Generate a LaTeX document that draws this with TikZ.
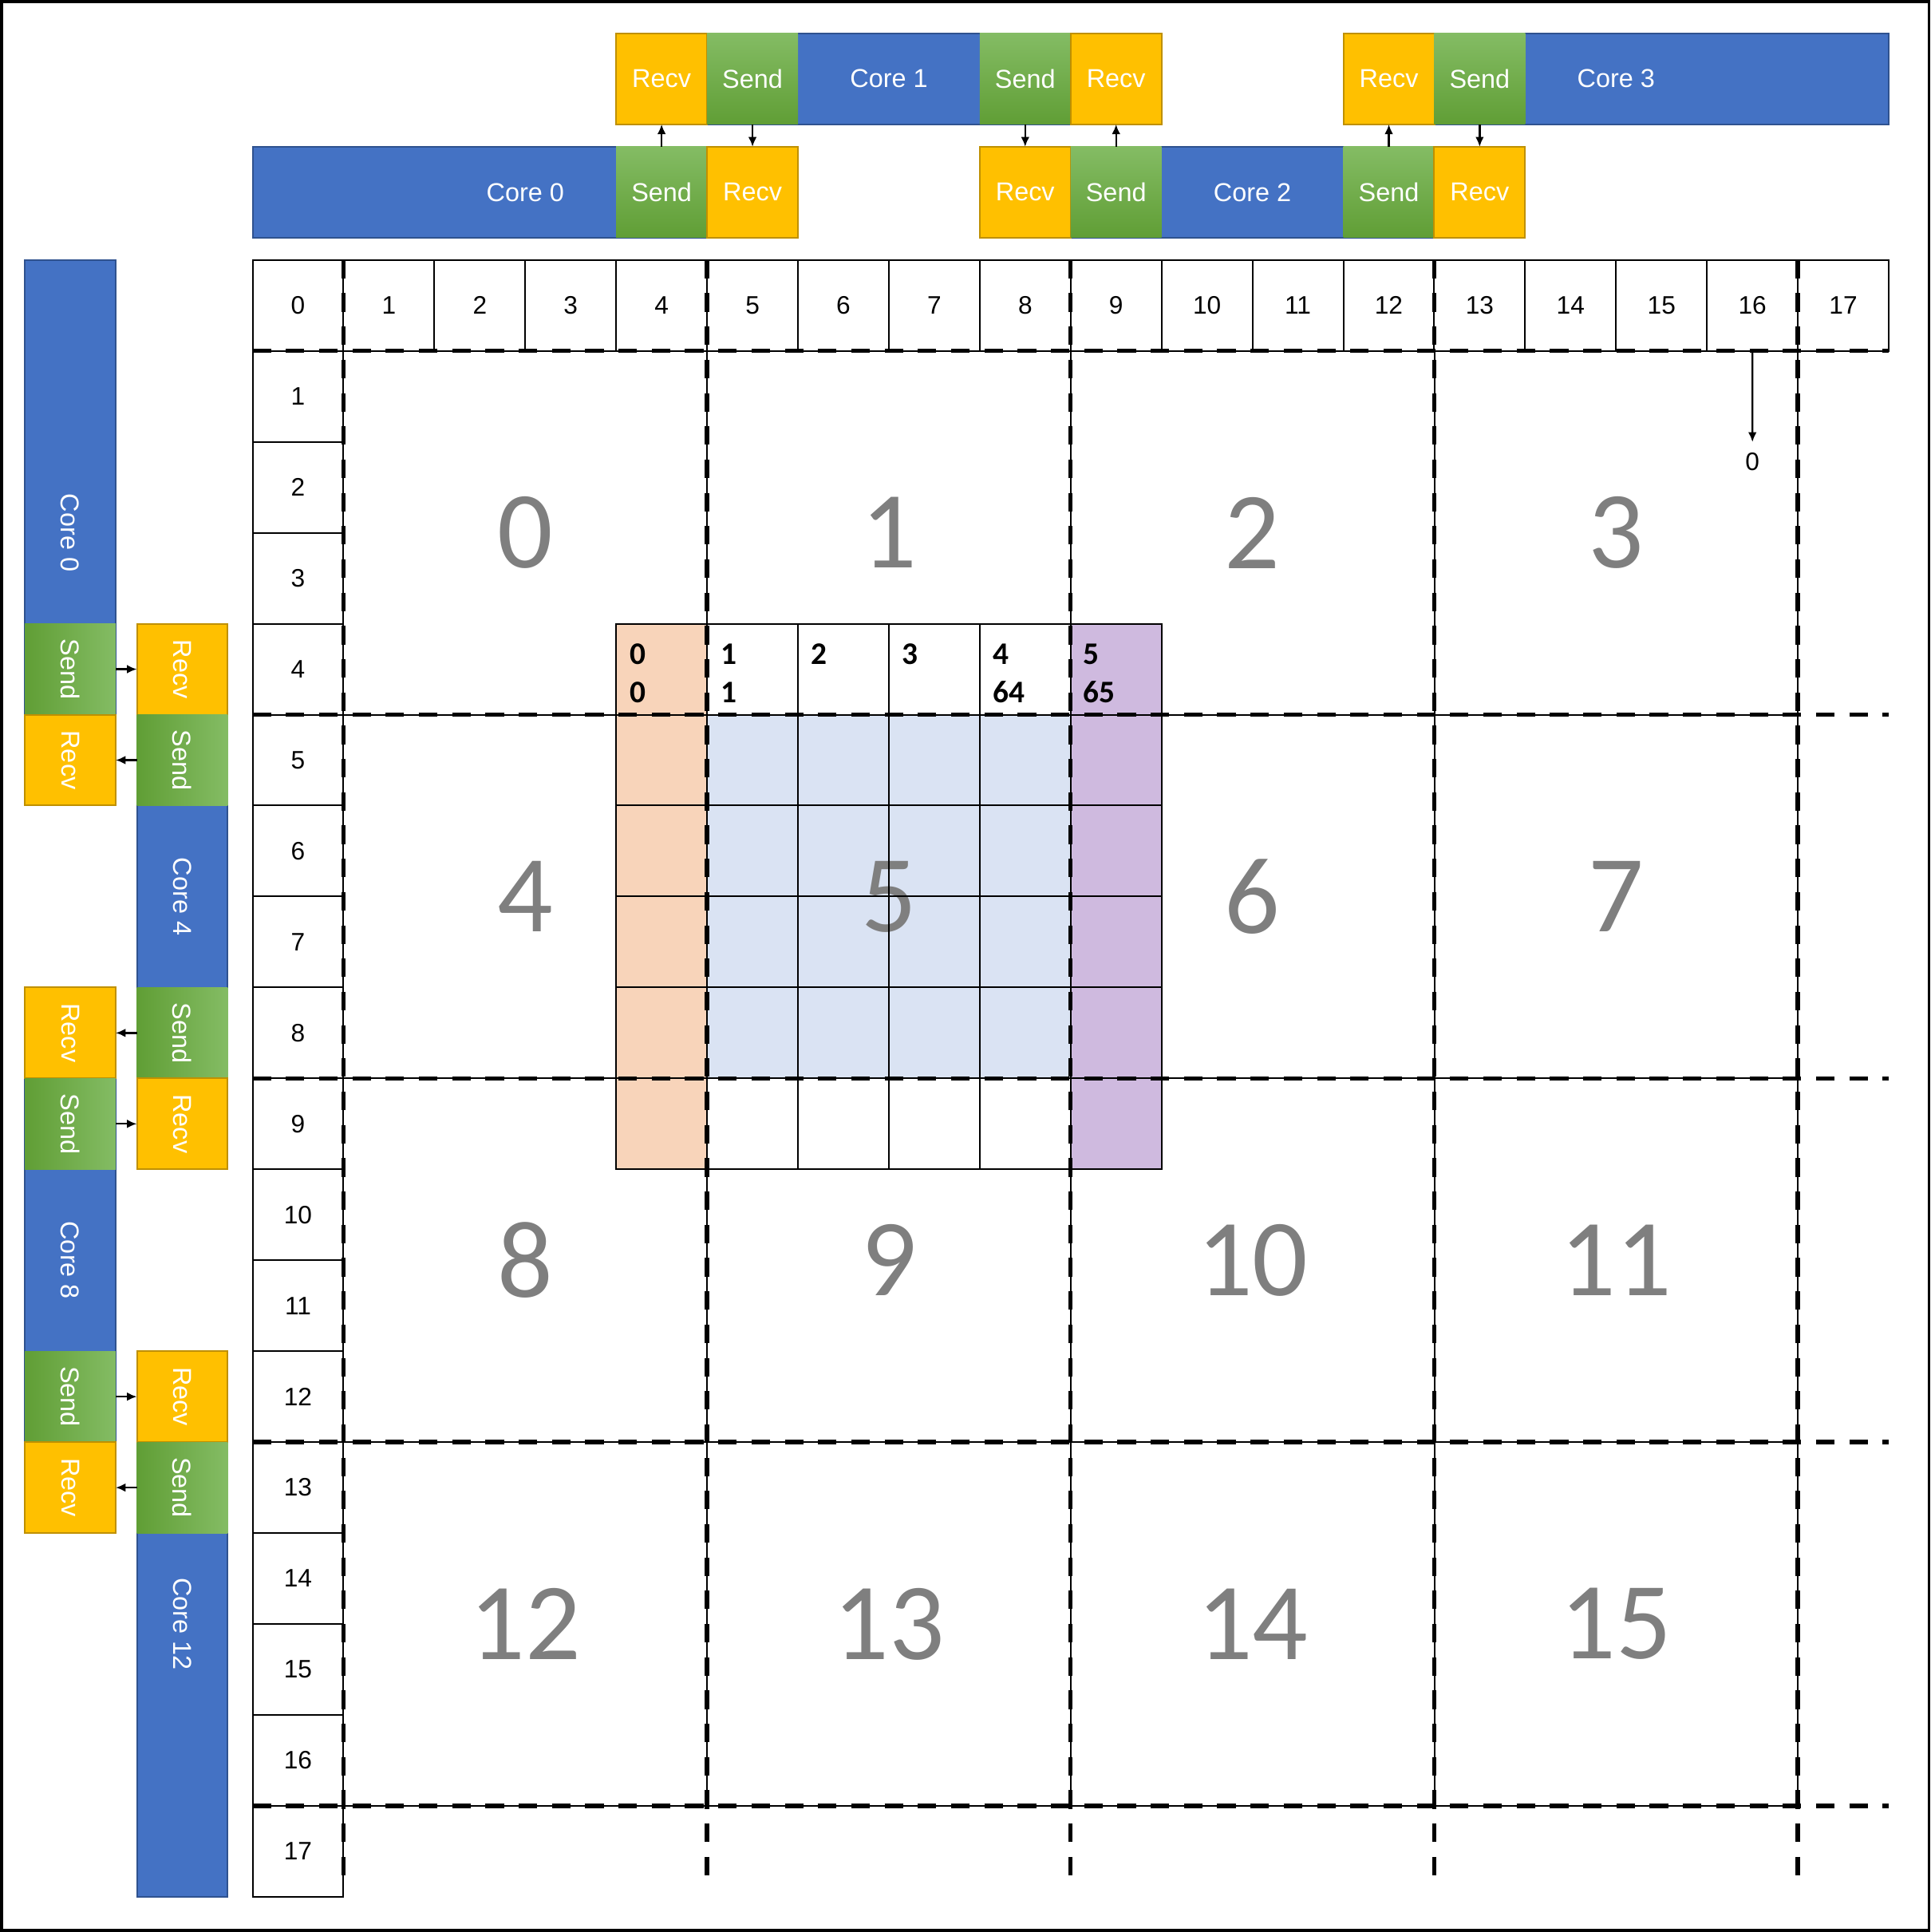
\documentclass[tikz,border=0pt]{standalone}
\usepackage{fontspec}
\setmainfont{Liberation Sans}
\newfontfamily\carl{Carlito}
\usetikzlibrary{arrows.meta}
\definecolor{cblue}{HTML}{4472C4}
\definecolor{cblueb}{HTML}{2F528F}
\definecolor{cyel}{HTML}{FFC000}
\definecolor{cyelb}{HTML}{BF9000}
\definecolor{cgl}{HTML}{84BC64}
\definecolor{cgd}{HTML}{609E35}
\definecolor{corange}{HTML}{F8D4BA}
\definecolor{cpurple}{HTML}{CFBADF}
\definecolor{clblue}{HTML}{DAE3F3}
\definecolor{cgray}{HTML}{7F7F7F}
\newcommand\vsendbox[3]{%
  \shade[left color=cgd,right color=cgl] ({#2-36.9},{#3-36.9}) rectangle ({#2+36.9},{#3+36.9});
  \node[vsend,rotate=-90] (#1) at (#2,#3) {Send};}
\begin{document}
\begin{tikzpicture}[x=1pt,y=-1pt,
  every node/.style={inner sep=0pt,outer sep=0pt},
  lab/.style={font=\fontsize{21}{25}\selectfont,text=white},
  hbar/.style={fill=cblue,draw=cblueb,line width=1.3pt,minimum width=442.7pt,minimum height=73.8pt,lab},
  recvbox/.style={fill=cyel,draw=cyelb,line width=1.3pt,minimum width=73.8pt,minimum height=73.8pt,lab},
  sendbox/.style={top color=cgl,bottom color=cgd,minimum width=73.8pt,minimum height=73.8pt,lab},
  vsend/.style={minimum width=73.8pt,minimum height=73.8pt,lab},
  hdr/.style={draw,line width=1.3pt,minimum width=73.78pt,minimum height=73.8pt,font=\fontsize{20.5}{24}\selectfont},
  blk/.style={draw,line width=1.3pt,minimum width=295.13pt,minimum height=295.2pt,font=\carl\fontsize{89}{100}\selectfont,text=cgray},
  cellbox/.style={draw,line width=1.3pt,minimum width=73.78pt,minimum height=73.8pt},
  blab/.style={font=\carl\bfseries\fontsize{25.5}{31}\selectfont,anchor=base west},
  dl/.style={line width=3.5pt,dash pattern=on 15pt off 12pt},
  arr/.style={-{Latex[length=8pt,width=7pt]},line width=1.5pt}]
\useasboundingbox (0,0) rectangle (1567,1568);

% centre fills
\fill[corange] (500.1,506.2) rectangle (573.9,949);
\fill[cpurple] (869,506.2) rectangle (942.8,949);
\fill[clblue] (573.9,580) rectangle (869,875.2);

% headers
\foreach \i in {0,...,17} { \node[hdr] (h\i) at ({205+(\i+0.5)*73.78},247.9) {\i}; }
\foreach \j in {1,...,17} { \node[hdr] (r\j) at (241.9,{211+(\j+0.5)*73.8}) {\j}; }

% blocks
\foreach \i in {0,...,3} { \foreach \j in {0,...,3} {
  \pgfmathtruncatemacro\bn{4*\j+\i}
  \node[blk] (b\bn) at ({278.8+(\i+0.5)*295.13},{284.8+(\j+0.5)*295.2}) {\bn};
}}

% centre cells
\foreach \c in {4,...,9} { \foreach \r in {4,...,9} {
  \node[cellbox] (m\c-\r) at ({205+(\c+0.5)*73.78},{211+(\r+0.5)*73.8}) {};
}}

% labels in row 4
\node[blab] (l0a) at (511.5,539) {0};
\node[blab] (l0b) at (511.5,570) {0};
\node[blab] (l1a) at (585,539) {1};
\node[blab] (l1b) at (585,570) {1};
\node[blab] (l2a) at (658.5,539) {2};
\node[blab] (l3a) at (732,539) {3};
\node[blab] (l4a) at (806,539) {4};
\node[blab] (l4b) at (806,570) {64};
\node[blab] (l5a) at (879.5,539) {5};
\node[blab] (l5b) at (879.5,570) {65};

% dashed block lines
\foreach \x in {278.8,573.9,869.0,1164.1,1459.3} { \draw[dl] (\x,211) -- (\x,1533); }
\foreach \y in {284.8,580,875.2,1170.4,1465.6} { \draw[dl] (205,\y) -- (1533,\y); }

% arrow in column 16
\node[font=\fontsize{20.5}{24}\selectfont] (z0) at (1422.4,375) {0};
\draw[arr,shorten >=9pt] (h16) -- (z0);

% top bars
\node[hbar] (tc1) at (721.5,64) {Core 1};
\node[recvbox] (tc1r1) at (537,64) {Recv};
\node[sendbox] (tc1s1) at (610.8,64) {Send};
\node[sendbox] (tc1s2) at (832.1,64) {Send};
\node[recvbox] (tc1r2) at (905.9,64) {Recv};

\node[hbar] (tc3) at (1311.7,64) {Core 3};
\node[recvbox] (tc3r) at (1127.3,64) {Recv};
\node[sendbox] (tc3s) at (1201,64) {Send};

\node[hbar] (tc0) at (426.4,156) {Core 0};
\node[sendbox] (tc0s) at (537,156) {Send};
\node[recvbox] (tc0r) at (610.8,156) {Recv};

\node[hbar] (tc2) at (1016.6,156) {Core 2};
\node[recvbox] (tc2r1) at (832.1,156) {Recv};
\node[sendbox] (tc2s1) at (905.9,156) {Send};
\node[sendbox] (tc2s2) at (1127.3,156) {Send};
\node[recvbox] (tc2r2) at (1201,156) {Recv};

\draw[arr] (tc0s) -- (tc1r1);
\draw[arr] (tc1s1) -- (tc0r);
\draw[arr] (tc1s2) -- (tc2r1);
\draw[arr] (tc2s1) -- (tc1r2);
\draw[arr] (tc2s2) -- (tc3r);
\draw[arr] (tc3s) -- (tc2r2);

% left bars
\node[hbar,rotate=-90] (lc0) at (57,432.4) {Core 0};
\vsendbox{lc0s}{57}{543.1}
\node[recvbox,rotate=-90] (lc0r) at (57,616.9) {Recv};

\node[hbar,rotate=-90] (lc4) at (148,727.6) {Core 4};
\node[recvbox,rotate=-90] (lc4r1) at (148,543.1) {Recv};
\vsendbox{lc4s1}{148}{616.9}
\vsendbox{lc4s2}{148}{838.3}
\node[recvbox,rotate=-90] (lc4r2) at (148,912.1) {Recv};

\node[hbar,rotate=-90] (lc8) at (57,1022.8) {Core 8};
\node[recvbox,rotate=-90] (lc8r1) at (57,838.3) {Recv};
\vsendbox{lc8s1}{57}{912.1}
\vsendbox{lc8s2}{57}{1133.5}
\node[recvbox,rotate=-90] (lc8r2) at (57,1207.3) {Recv};

\node[hbar,rotate=-90] (lc12) at (148,1318) {Core 12};
\node[recvbox,rotate=-90] (lc12r) at (148,1133.5) {Recv};
\vsendbox{lc12s}{148}{1207.3}

\draw[arr] (lc0s) -- (lc4r1);
\draw[arr] (lc4s1) -- (lc0r);
\draw[arr] (lc4s2) -- (lc8r1);
\draw[arr] (lc8s1) -- (lc4r2);
\draw[arr] (lc8s2) -- (lc12r);
\draw[arr] (lc12s) -- (lc8r2);

% frame
\draw[line width=2.5pt] (1.25,1.25) rectangle (1565.75,1566.75);
\end{tikzpicture}
\end{document}
